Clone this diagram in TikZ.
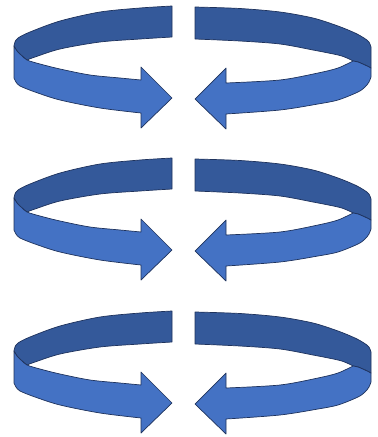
\documentclass[tikz,border=0pt]{standalone}
\definecolor{backblue}{RGB}{52,89,154}
\definecolor{frontblue}{RGB}{68,114,196}
\definecolor{edgeblue}{RGB}{30,50,92}
\tikzset{
  backband/.style={fill=backblue,draw=edgeblue,line width=0.7pt,line join=round},
  frontband/.style={fill=frontblue,draw=edgeblue,line width=0.7pt,line join=round},
  pair/.pic={
    % left arrow: back (dark) band
    \path[backband] plot[smooth] coordinates {(172,6) (140,8) (100,12) (60,21) (30,32) (18,38) (15,42) (14,46)}
      -- plot[smooth] coordinates {(14,46) (17,51) (21,55) (27,60)}
      -- plot[smooth] coordinates {(27,60) (35,57) (60,49) (100,42) (140,39) (172,37)}
      -- cycle;
    % left arrow: front (light) band with head
    \path[frontband] plot[smooth] coordinates {(14,46) (17,51) (21,55) (27,60) (40,64) (60,69) (90,75) (120,78) (141,80)}
      -- (141,67) -- (172,98) -- (141,128) -- (141,113)
      -- plot[smooth] coordinates {(141,113) (100,108) (60,100) (35,92) (20,86) (16,82) (14,78)}
      -- cycle;
    % right arrow: back (dark) band
    \path[backband] plot[smooth] coordinates {(195,7) (240,8.5) (280,12) (313,18) (338,26) (355,33) (364,38) (369,42) (371,47)}
      -- (371,68)
      -- plot[smooth] coordinates {(371,68) (365,65) (358,62) (353,61)}
      -- plot[smooth] coordinates {(353,61) (347,58) (338,55) (313,50) (280,44) (240,41) (195,39)}
      -- cycle;
    % right arrow: front (light) band with head
    \path[frontband] plot[smooth] coordinates {(353,61) (358,62) (365,65) (371,68)}
      -- (371,77)
      -- plot[smooth] coordinates {(371,77) (369,82) (365,87) (358,92) (338,100) (318,104) (280,110) (226,114)}
      -- (226,129) -- (195,99) -- (226,68) -- (226,83)
      -- plot[smooth] coordinates {(226,83) (280,80) (318,73) (338,68) (353,61)}
      -- cycle;
  }
}
\begin{document}
\begin{tikzpicture}[x=1pt,y=-1pt]
  \useasboundingbox (0,0) rectangle (378,437);
  \pic at (0,0) {pair};
  \pic at (0,152) {pair};
  \pic at (0,305) {pair};
\end{tikzpicture}
\end{document}
